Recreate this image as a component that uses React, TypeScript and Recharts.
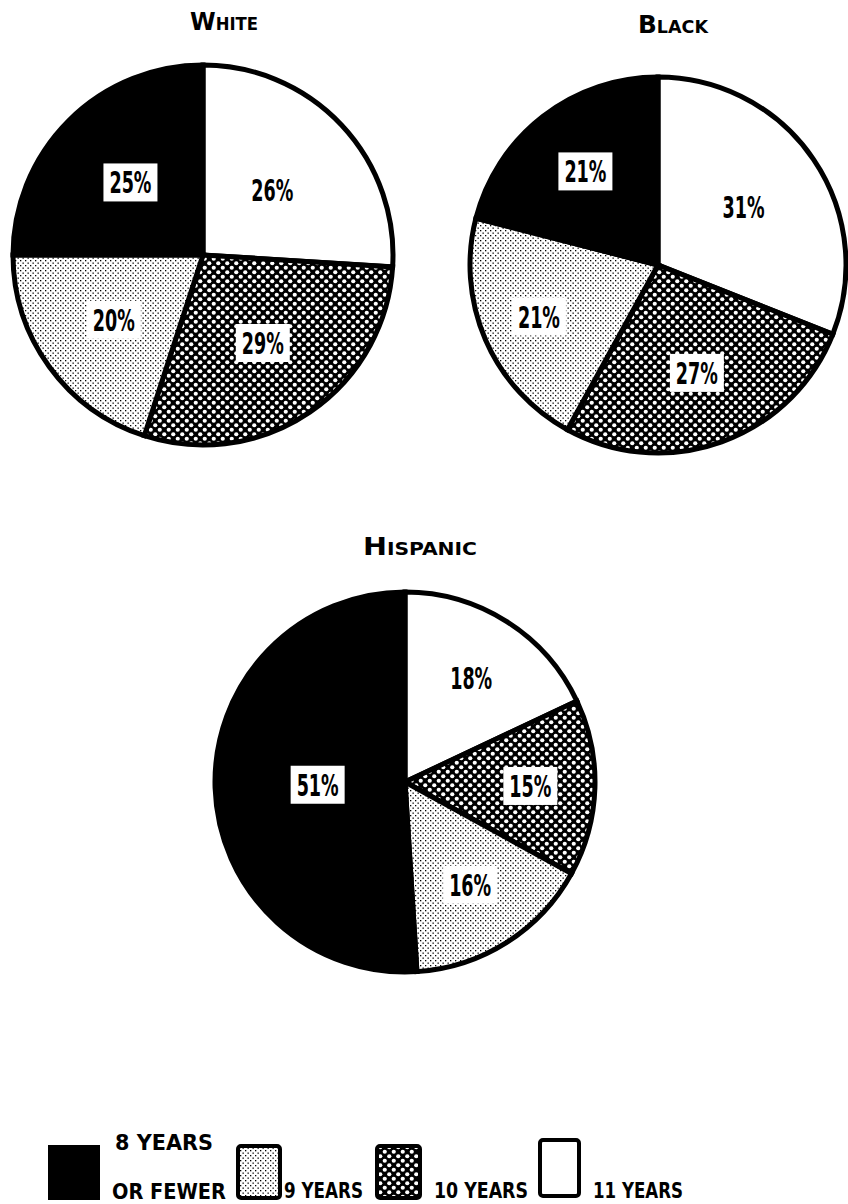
import React from 'react'
import { PieChart, Pie, Cell, Legend } from 'recharts'

// slice order runs clockwise from 12 o'clock
const CATEGORIES = ['11 years', '10 years', '9 years', '8 years or fewer']
const WHITE_VALUES = [26, 29, 20, 25]
const BLACK_VALUES = [31, 27, 21, 21]
const HISPANIC_VALUES = [18, 15, 16, 51]
const GROUP_TITLES = ['White', 'Black', 'Hispanic']
const LEGEND_LABELS = [['8 YEARS', 'OR FEWER'], ['9 YEARS'], ['10 YEARS'], ['11 YEARS']]

const FONT = "'DejaVu Sans Condensed', 'Liberation Sans Narrow', 'DejaVu Sans', sans-serif"

// fill per category, same order as CATEGORIES
const FILLS = ['#ffffff', 'url(#hatch10)', 'url(#dots9)', '#000000']

const toRows = (values: number[]) =>
  CATEGORIES.map((name, i) => ({ name, value: values[i] }))

// where each pie sits and how far out its labels go (fraction of radius)
const LAYOUT = [
  { values: WHITE_VALUES, cx: 203, cy: 255, r: 190, labelR: [0.5, 0.56, 0.58, 0.54], title: { x: 224, y: 30, w: 68 } },
  { values: BLACK_VALUES, cx: 658, cy: 265, r: 188, labelR: [0.55, 0.61, 0.69, 0.63], title: { x: 673, y: 33, w: 70 } },
  { values: HISPANIC_VALUES, cx: 405, cy: 782, r: 190, labelR: [0.65, 0.66, 0.64, 0.46], title: { x: 420, y: 555, w: 114 } },
]

const RAD = Math.PI / 180

const makeLabel = (fractions: number[]) => (props: any) => {
  const { cx, cy, midAngle, outerRadius, index, value } = props
  const r = outerRadius * fractions[index]
  const x = cx + r * Math.cos(-midAngle * RAD)
  const y = cy + r * Math.sin(-midAngle * RAD)
  return (
    <g>
      <rect x={x - 27} y={y - 19} width={54} height={38} fill="#ffffff" />
      <text
        x={x}
        y={y + 11}
        textAnchor="middle"
        fontFamily={FONT}
        fontWeight="bold"
        fontSize={30}
        textLength={42}
        lengthAdjust="spacingAndGlyphs"
        fill="#000"
      >
        {`${value}%`}
      </text>
    </g>
  )
}

function Patterns() {
  return (
    <svg width={0} height={0} style={{ position: 'absolute' }}>
      <defs>
        <pattern id="hatch10" width={9} height={9} patternUnits="userSpaceOnUse">
          <rect width={9} height={9} fill="#000" />
          <circle cx={2.25} cy={2.25} r={2.1} fill="#fff" />
          <circle cx={6.75} cy={6.75} r={2.1} fill="#fff" />
        </pattern>
        <pattern id="dots9" width={5} height={5} patternUnits="userSpaceOnUse">
          <rect width={5} height={5} fill="#fff" />
          <rect x={0} y={0} width={1.3} height={1.3} fill="#000" />
          <rect x={2.5} y={2.5} width={1.3} height={1.3} fill="#000" />
        </pattern>
      </defs>
    </svg>
  )
}

const renderLegend = () => {
  const sw = 'bold'
  return (
    <svg width={848} height={104}>
      {/* 8 years or fewer */}
      <rect x={48} y={45} width={52} height={55} fill="#000" />
      <text x={115} y={50} fontFamily={FONT} fontWeight={sw} fontSize={22} textLength={98} lengthAdjust="spacingAndGlyphs">{LEGEND_LABELS[0][0]}</text>
      <text x={112} y={99} fontFamily={FONT} fontWeight={sw} fontSize={22} textLength={114} lengthAdjust="spacingAndGlyphs">{LEGEND_LABELS[0][1]}</text>
      {/* 9 years */}
      <rect x={238} y={46} width={42} height={52} fill="url(#dots9)" stroke="#000" strokeWidth={4} rx={3} />
      <text x={284} y={98} fontFamily={FONT} fontWeight={sw} fontSize={22} textLength={79} lengthAdjust="spacingAndGlyphs">{LEGEND_LABELS[1][0]}</text>
      {/* 10 years */}
      <rect x={377} y={46} width={43} height={52} fill="url(#hatch10)" stroke="#000" strokeWidth={4} rx={3} />
      <text x={434} y={98} fontFamily={FONT} fontWeight={sw} fontSize={22} textLength={94} lengthAdjust="spacingAndGlyphs">{LEGEND_LABELS[2][0]}</text>
      {/* 11 years */}
      <rect x={540} y={40} width={39} height={56} fill="#fff" stroke="#000" strokeWidth={4} rx={3} />
      <text x={593} y={98} fontFamily={FONT} fontWeight={sw} fontSize={22} textLength={90} lengthAdjust="spacingAndGlyphs">{LEGEND_LABELS[3][0]}</text>
    </svg>
  )
}

export default function App() {
  return (
    <div style={{ position: 'absolute', left: 0, top: 0, width: 848, height: 1204, background: '#fff' }}>
      <Patterns />
      <PieChart width={848} height={1204} margin={{ top: 0, right: 0, bottom: 0, left: 0 }}>
        {LAYOUT.map((p, k) => (
          <Pie
            key={GROUP_TITLES[k]}
            data={toRows(p.values)}
            dataKey="value"
            nameKey="name"
            cx={p.cx}
            cy={p.cy}
            outerRadius={p.r}
            startAngle={90}
            endAngle={-270}
            stroke="#000"
            strokeWidth={5}
            labelLine={false}
            label={makeLabel(p.labelR)}
            isAnimationActive={false}
          >
            {CATEGORIES.map((c, i) => (
              <Cell key={c} fill={FILLS[i]} />
            ))}
          </Pie>
        ))}
        <Legend
          content={renderLegend}
          wrapperStyle={{ position: 'absolute', left: 0, top: 1100, width: 848, height: 104 }}
        />
      </PieChart>
      <svg width={848} height={1204} style={{ position: 'absolute', left: 0, top: 0, pointerEvents: 'none' }}>
        {LAYOUT.map((p, k) => (
          <text
            key={GROUP_TITLES[k]}
            x={p.title.x}
            y={p.title.y}
            textAnchor="middle"
            fontFamily={FONT}
            fontWeight="bold"
            fontSize={24}
            textLength={p.title.w}
            lengthAdjust="spacingAndGlyphs"
            style={{ fontVariant: 'small-caps' }}
          >
            {GROUP_TITLES[k]}
          </text>
        ))}
      </svg>
    </div>
  )
}
